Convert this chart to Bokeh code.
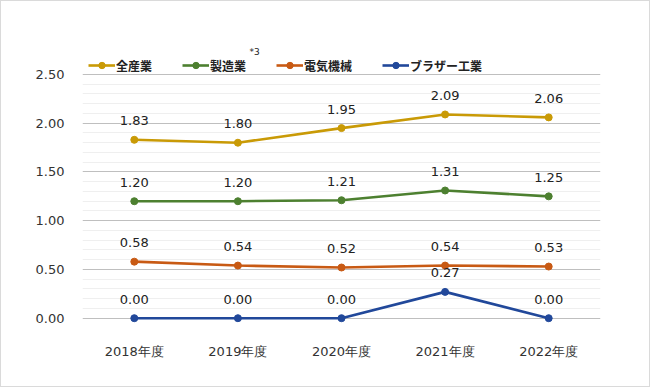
from bokeh.plotting import figure
from bokeh.models import (ColumnDataSource, FactorRange, Range1d, FixedTicker,
                          NumeralTickFormatter, Legend, LegendItem, LabelSet, Label)
from bokeh.core.properties import value
from bokeh.embed import file_html
from bokeh.resources import INLINE

years = ["2018年度", "2019年度", "2020年度", "2021年度", "2022年度"]
all_industry = [1.83, 1.80, 1.95, 2.09, 2.06]
manufacturing = [1.20, 1.20, 1.21, 1.31, 1.25]
electrical = [0.58, 0.54, 0.52, 0.54, 0.53]
brother = [0.00, 0.00, 0.00, 0.27, 0.00]

series_names = ["全産業", "製造業", "電気機械", "ブラザー工業"]
series_values = [all_industry, manufacturing, electrical, brother]
colors = ["#C99A06", "#4D8030", "#C85A14", "#21489A"]

major_ticks = [0.0, 0.5, 1.0, 1.5, 2.0, 2.5]
minor_ticks = [0.1, 0.2, 0.3, 0.4, 0.6, 0.7, 0.8, 0.9, 1.1, 1.2, 1.3, 1.4,
               1.6, 1.7, 1.8, 1.9, 2.1, 2.2, 2.3, 2.4]

NUM_FONT = "DejaVu Sans"
CJK_FONT = "Noto Sans CJK JP"

p = figure(x_range=FactorRange(*years, range_padding=0),
           y_range=Range1d(-0.0646, 2.8487),
           frame_width=518, frame_height=284,
           min_border_left=81, min_border_right=49,
           min_border_top=39, min_border_bottom=62,
           output_backend="svg", toolbar_location=None)
p.styles = {"border": "1px solid #DADADA"}
p.outline_line_color = None
p.background_fill_color = "white"
p.border_fill_color = "white"

# grid
p.xgrid.grid_line_color = None
p.yaxis.ticker = FixedTicker(ticks=major_ticks, minor_ticks=minor_ticks)
p.ygrid.grid_line_color = "#BFBFBF"
p.ygrid.grid_line_width = 1.2
p.ygrid.minor_grid_line_color = "#EFEFEF"
p.ygrid.minor_grid_line_width = 1

# axes
for ax in (p.xaxis, p.yaxis):
    ax.axis_line_color = None
    ax.major_tick_line_color = None
    ax.minor_tick_line_color = None
    ax.major_tick_out = 0
    ax.major_tick_in = 0
    ax.minor_tick_out = 0
    ax.major_label_text_font = NUM_FONT
    ax.major_label_text_font_size = "13px"
    ax.major_label_text_font_style = "normal"
    ax.major_label_text_color = "#333333"
p.yaxis.formatter = NumeralTickFormatter(format="0.00")
p.yaxis.major_label_standoff = 18
p.xaxis.major_label_standoff = 19

items = []
for name, vals, col in zip(series_names, series_values, colors):
    src = ColumnDataSource(dict(x=years, y=vals, lbl=[f"{v:.2f}" for v in vals]))
    r1 = p.line("x", "y", source=src, line_color=col, line_width=2.6)
    r2 = p.scatter("x", "y", source=src, size=7, fill_color=col, line_color=col)
    items.append(LegendItem(label=name, renderers=[r1, r2]))
    labels = LabelSet(x="x", y="y", text="lbl", source=src, y_offset=19,
                      text_align="center", text_baseline="middle",
                      text_font=value(NUM_FONT), text_font_size=value("13px"),
                      text_color=value("#222222"))
    p.add_layout(labels)

legend = Legend(items=items, location=(6, 250.5), orientation="horizontal",
                glyph_width=27, glyph_height=16, label_height=16,
                label_standoff=1, spacing=30, padding=0, margin=0,
                border_line_color=None, background_fill_alpha=0,
                label_text_font=CJK_FONT, label_text_font_size="12px",
                label_text_font_style="bold", label_text_color="#222222",
                label_text_baseline="middle")
p.add_layout(legend, "center")

sup = Label(x=172, y=273, x_units="screen", y_units="screen", text="*3",
            text_font=NUM_FONT, text_font_size="9px", text_color="#222222",
            text_align="center", text_baseline="middle")
p.add_layout(sup)

open("out.html", "w").write(file_html(p, INLINE))
